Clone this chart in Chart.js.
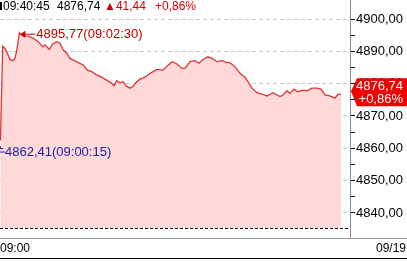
<!DOCTYPE html>
<html>
<head>
<meta charset="utf-8">
<script src="https://cdn.jsdelivr.net/npm/chart.js@4.4.1/dist/chart.umd.min.js"></script>
<style>
  html, body { margin: 0; padding: 0; background: #fff; }
  #wrap { width: 407px; height: 261px; }
</style>
</head>
<body>
<div id="wrap"><canvas id="chart" width="407" height="261"></canvas></div>
<script>
// minutes after 09:00
const times = [0.25, 0.52, 0.79, 1.07, 1.39, 1.71, 1.98, 2.2, 2.5, 2.6, 2.97, 3.57, 4.16, 4.75, 5.28, 5.55,
  6.06, 6.47, 6.94, 7.33, 7.73, 8.13, 8.52, 8.92, 9.51, 10.1, 10.58, 11.1, 11.7, 12.29, 12.89, 13.48,
  13.76, 14.08, 14.47, 14.86, 15.18, 15.66, 15.98, 16.45, 16.85, 17.44, 18.04, 18.87, 19.58, 20.65,
  21.25, 21.84, 22.2, 22.79, 23.39, 23.86, 24.34, 24.93, 25.41, 26.0, 26.6, 27.19, 27.55, 28.14,
  28.74, 29.33, 29.69, 30.16, 30.76, 31.35, 31.95, 32.66, 33.49, 33.85, 34.33, 34.68, 35.16, 35.63,
  36.23, 36.7, 37.3, 37.89, 38.37, 38.85, 39.44, 40.03, 40.39, 40.75];
const prices = [4862.41, 4891.6, 4890.9, 4889.4, 4887.5, 4887.1, 4887.8, 4890.4, 4895.77, 4895.4, 4894.7,
  4894.7, 4894.0, 4893.0, 4891.4, 4892.0, 4890.6, 4892.3, 4893.0, 4892.5, 4890.4, 4889.4, 4887.8,
  4887.3, 4886.5, 4885.8, 4884.2, 4883.7, 4882.7, 4882.0, 4881.1, 4880.1, 4879.4, 4880.9, 4880.3,
  4880.6, 4879.3, 4878.6, 4879.1, 4880.6, 4881.4, 4882.0, 4883.2, 4884.4, 4884.2, 4886.8, 4886.1,
  4884.7, 4884.7, 4886.8, 4887.1, 4886.3, 4887.5, 4888.3, 4887.8, 4886.8, 4887.1, 4886.5, 4886.5,
  4885.2, 4883.2, 4882.0, 4880.6, 4878.6, 4877.2, 4876.8, 4876.2, 4877.2, 4876.0, 4876.5, 4877.8,
  4877.0, 4878.3, 4877.5, 4878.0, 4877.8, 4878.6, 4878.6, 4878.3, 4876.5, 4876.2, 4875.5, 4876.7, 4876.74];

const lastTime = '09:40:45';
const lastPrice = 4876.74;
const change = 41.44;
const changePct = 0.86;
const highTime = '09:02:30', highMinute = 2.5, highPrice = 4895.77;
const lowTime = '09:00:15', lowMinute = 0.25, lowPrice = 4862.41;
const startLabel = '09:00';
const dateLabel = '09/19';

const fmt = v => v.toFixed(2).replace('.', ',');
const FONT = '"Liberation Sans", Arial, sans-serif';

const overlay = {
  id: 'overlay',
  afterDraw(chart) {
    const ctx = chart.ctx;
    const x = chart.scales.x, y = chart.scales.y;
    const area = chart.chartArea;
    ctx.save();

    // bottom dashed line of the plot
    ctx.strokeStyle = '#000';
    ctx.lineWidth = 1;
    ctx.setLineDash([3, 2]);
    ctx.beginPath();
    ctx.moveTo(area.left, area.bottom + 0.5);
    ctx.lineTo(area.right, area.bottom + 0.5);
    ctx.stroke();
    ctx.setLineDash([]);

    // axis line continues to time row
    ctx.strokeStyle = '#8a8a8a';
    ctx.beginPath();
    ctx.moveTo(area.right + 0.5, area.bottom);
    ctx.lineTo(area.right + 0.5, 239);
    ctx.stroke();

    // time row frame
    ctx.strokeStyle = '#9a9a9a';
    ctx.beginPath();
    ctx.moveTo(0, 238.5);
    ctx.lineTo(407, 238.5);
    ctx.stroke();
    ctx.strokeStyle = '#000';
    ctx.beginPath();
    ctx.moveTo(0, 258.5);
    ctx.lineTo(407, 258.5);
    ctx.stroke();

    ctx.font = '12px ' + FONT;
    ctx.fillStyle = '#000';
    ctx.textBaseline = 'middle';
    ctx.textAlign = 'left';
    ctx.fillText(startLabel, 0, 249);
    ctx.textAlign = 'right';
    ctx.fillText(dateLabel, 406, 249);

    // header
    ctx.textAlign = 'left';
    ctx.fillRect(0, 2, 2, 8);
    ctx.fillText(lastTime, 3, 6.5);
    ctx.fillText(fmt(lastPrice), 57, 6.5);
    ctx.fillStyle = '#d40000';
    ctx.fillText('▲' + fmt(change), 104, 6.5);
    ctx.fillText('+' + fmt(changePct) + '%', 155, 6.5);

    // high marker
    ctx.font = '13px ' + FONT;
    const hx = x.getPixelForValue(highMinute) + 1, hy = y.getPixelForValue(highPrice) + 1;
    ctx.strokeStyle = '#c00000';
    ctx.fillStyle = '#c00000';
    ctx.beginPath();
    ctx.moveTo(hx, hy + 0.5);
    ctx.lineTo(hx + 15, hy + 0.5);
    ctx.stroke();
    ctx.beginPath();
    ctx.moveTo(hx, hy + 0.5);
    ctx.lineTo(hx + 5, hy - 3);
    ctx.lineTo(hx + 5, hy + 4);
    ctx.closePath();
    ctx.fill();
    ctx.fillText(fmt(highPrice) + '(' + highTime + ')', hx + 16, hy + 1);

    // low marker
    const ly = y.getPixelForValue(lowPrice) + 11;
    ctx.strokeStyle = '#2020b0';
    ctx.fillStyle = '#2020b0';
    ctx.beginPath();
    ctx.moveTo(0, ly + 0.5);
    ctx.lineTo(5, ly + 0.5);
    ctx.moveTo(0.5, ly - 5);
    ctx.lineTo(0.5, ly - 3);
    ctx.lineTo(3, ly - 3);
    ctx.stroke();
    ctx.fillText(fmt(lowPrice) + '(' + lowTime + ')', 5, ly + 1);

    // current price tag
    const cy = y.getPixelForValue(lastPrice);
    ctx.fillStyle = '#f00000';
    ctx.beginPath();
    ctx.moveTo(351, cy - 3);
    ctx.lineTo(357, cy - 16);
    ctx.lineTo(407, cy - 16);
    ctx.lineTo(407, cy + 12);
    ctx.lineTo(357, cy + 12);
    ctx.closePath();
    ctx.fill();
    ctx.fillStyle = '#fff';
    ctx.textAlign = 'right';
    ctx.fillText(fmt(lastPrice), 403, cy - 8);
    ctx.fillText('+' + fmt(changePct) + '%', 403, cy + 5);

    ctx.restore();
  }
};

new Chart(document.getElementById('chart'), {
  type: 'line',
  data: {
    datasets: [{
      data: times.map((t, i) => ({ x: t, y: prices[i] })),
      borderColor: '#e03434',
      borderWidth: 1.3,
      backgroundColor: '#ffd8d8',
      fill: 'start',
      pointRadius: 0,
      tension: 0
    }]
  },
  options: {
    responsive: false,
    animation: false,
    layout: { padding: { left: 0, right: 0, top: 0, bottom: 33 } },
    plugins: { legend: { display: false }, tooltip: { enabled: false } },
    scales: {
      x: { type: 'linear', min: 0.2, max: 41.82, display: false },
      y: {
        position: 'right',
        min: 4835.35,
        max: 4905.88,
        afterFit: s => { s.width = 57; s.paddingTop = 0; s.paddingBottom = 0; },
        afterBuildTicks: s => { s.ticks = s.ticks.filter(t => t.value <= 4900 && t.value >= 4836); },
        ticks: {
          stepSize: 5,
          includeBounds: false,
          padding: 1,
          color: '#000',
          font: { family: FONT, size: 13 },
          callback: v => (Math.abs(v % 10) < 0.01 ? fmt(v) : '')
        },
        grid: {
          color: c => (c.tick && Math.abs(c.tick.value % 10) < 0.01 ? '#c8c8c8' : 'rgba(0,0,0,0)'),
          tickColor: '#000',
          tickLength: 5
        },
        border: { color: '#8a8a8a', width: 1, dash: [4, 3] }
      }
    }
  },
  plugins: [overlay]
});
</script>
</body>
</html>
